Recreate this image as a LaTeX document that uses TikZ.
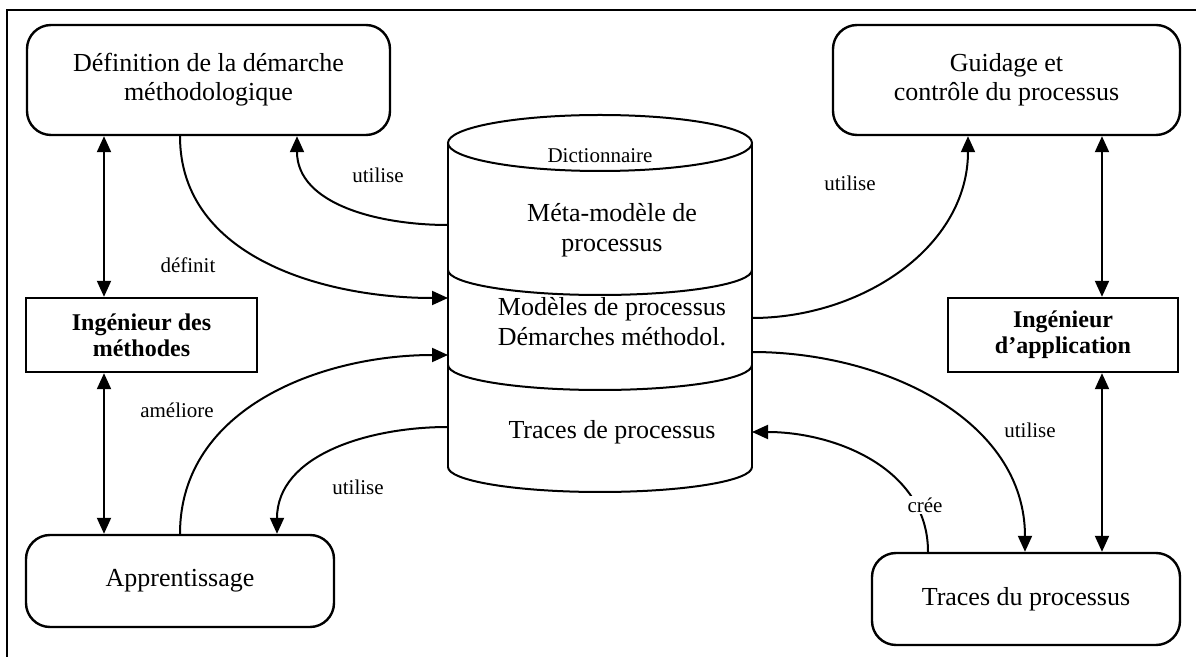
\documentclass[tikz,border=0pt]{standalone}
\usepackage{fontspec}
\setmainfont{Liberation Serif}
\usetikzlibrary{arrows.meta}
\begin{document}
\begin{tikzpicture}[x=0.5pt,y=0.5pt,
    box/.style={draw,line width=1.2pt,rounded corners=12pt,align=center,inner sep=0pt,font=\fontsize{13}{14.5}\selectfont},
    actor/.style={draw,line width=1.2pt,align=center,inner sep=0pt,font=\bfseries\fontsize{12}{13}\selectfont},
    lbl/.style={fill=white,inner sep=1pt,font=\fontsize{10.5}{12}\selectfont},
    txt/.style={align=center,font=\fontsize{13}{15}\selectfont},
    arr/.style={-{Triangle[length=8pt,width=7pt]},line width=1pt},
    both/.style={{Triangle[length=8pt,width=7pt]}-{Triangle[length=8pt,width=7pt]},line width=1pt}]
    \useasboundingbox (0,0) rectangle (1196,-657);
    \draw[line width=1pt] (1196,-10) -- (7,-10) -- (7,-657);
    \node[box,minimum width=181.5pt,minimum height=55pt] (def) at (208.5,-80) {Définition de la démarche\\méthodologique};
    \node[box,minimum width=173.5pt,minimum height=55pt] (guid) at (1006.5,-80) {Guidage et\\contrôle du processus};
    \node[actor,minimum width=115.5pt,minimum height=37pt] (ingm) at (141.5,-335) {Ingénieur des\\méthodes};
    \node[actor,minimum width=115pt,minimum height=37pt] (inga) at (1063,-335) {Ingénieur\\d’application};
    \node[box,minimum width=154pt,minimum height=46pt] (appr) at (180,-581) {Apprentissage};
    \node[box,minimum width=154pt,minimum height=46pt] (trac) at (1026,-599) {Traces du processus};
    \draw[line width=1pt] (448,-143) -- (448,-467);
    \draw[line width=1pt] (752,-143) -- (752,-467);
    \draw[line width=1pt] (600,-143) ellipse [x radius=76pt,y radius=14pt];
    \foreach \y in {270,365,467}
        \draw[line width=1pt] (448,-\y) arc[start angle=180,end angle=360,x radius=76pt,y radius=12.5pt];
    \node[lbl,fill=none] (dict) at (600,-156) {Dictionnaire};
    \node[txt] (meta) at (612,-230) {Méta-modèle de\\processus};
    \node[txt] (mod) at (612,-322) {Modèles de processus\\Démarches méthodol.};
    \node[txt] (trp) at (612,-432) {Traces de processus};
    \coordinate (c1) at (448,-225);
    \coordinate (c2) at (448,-298);
    \coordinate (c3) at (448,-355);
    \coordinate (c4) at (448,-427);
    \coordinate (c5) at (752,-318);
    \coordinate (c6) at (752,-352);
    \coordinate (c7) at (752,-432);
    \coordinate (xl) at (104,0);
    \coordinate (xr) at (1102,0);
    \draw[both] (def.south -| xl) -- (ingm.north -| xl);
    \draw[both] (ingm.south -| xl) -- (appr.north -| xl);
    \draw[both] (guid.south -| xr) -- (inga.north -| xr);
    \draw[both] (inga.south -| xr) -- (trac.north -| xr);
    \draw[arr] (c1) to[out=180,in=-90] (def.south -| 297,0);
    \draw[arr] (def.south -| 180,0) to[out=-90,in=180] (c2);
    \draw[arr] (appr.north -| 180,0) to[out=90,in=180] (c3);
    \draw[arr] (c4) to[out=180,in=90] (appr.north -| 277,0);
    \draw[arr] (c5) to[out=0,in=-90] (guid.south -| 968,0);
    \draw[arr] (c6) to[out=0,in=90] (trac.north -| 1025,0);
    \draw[arr] (trac.north -| 928,0) to[out=90,in=0] (c7);
    \node[lbl] (u1) at (378,-175) {utilise};
    \node[lbl] (d1) at (188,-265) {définit};
    \node[lbl] (a1) at (177,-410) {améliore};
    \node[lbl] (u2) at (358,-487) {utilise};
    \node[lbl] (u3) at (850,-183) {utilise};
    \node[lbl] (u4) at (1030,-430) {utilise};
    \node[lbl] (c8) at (925,-505) {crée};
\end{tikzpicture}
\end{document}
